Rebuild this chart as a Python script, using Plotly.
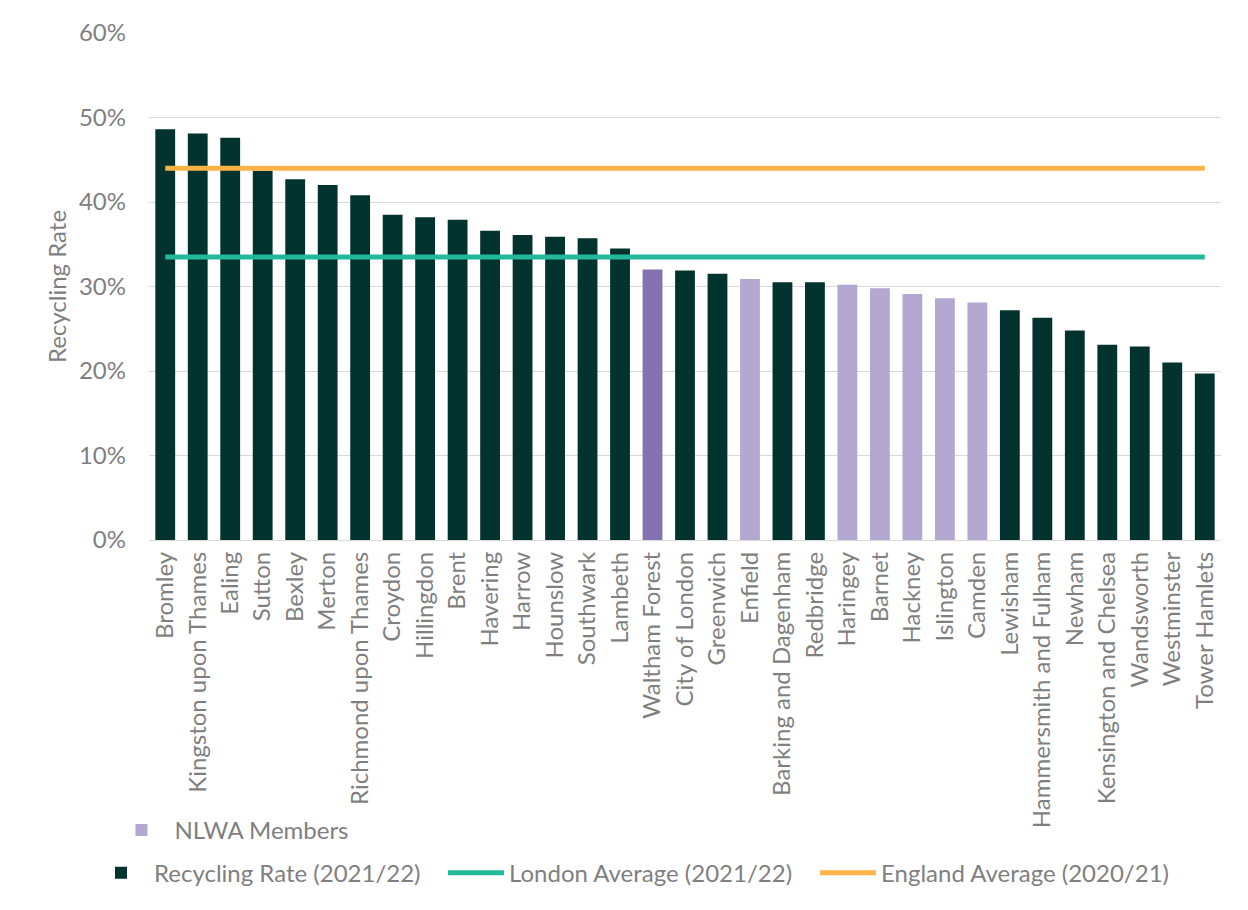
import plotly.graph_objects as go

categories = [
    "Bromley", "Kingston upon Thames", "Ealing", "Sutton", "Bexley", "Merton",
    "Richmond upon Thames", "Croydon", "Hillingdon", "Brent", "Havering", "Harrow",
    "Hounslow", "Southwark", "Lambeth", "Waltham Forest", "City of London", "Greenwich",
    "Enfield", "Barking and Dagenham", "Redbridge", "Haringey", "Barnet", "Hackney",
    "Islington", "Camden", "Lewisham", "Hammersmith and Fulham", "Newham",
    "Kensington and Chelsea", "Wandsworth", "Westminster", "Tower Hamlets",
]
recycling_rate = [
    0.486, 0.481, 0.476, 0.437, 0.427, 0.420,
    0.408, 0.385, 0.382, 0.379, 0.366, 0.361,
    0.359, 0.357, 0.345, 0.320, 0.319, 0.315,
    0.309, 0.305, 0.305, 0.302, 0.298, 0.291,
    0.286, 0.281, 0.272, 0.263, 0.248,
    0.231, 0.229, 0.210, 0.197,
]
nlwa_members = ["Enfield", "Haringey", "Barnet", "Hackney", "Islington", "Camden"]
highlight = ["Waltham Forest"]
london_average = 0.335
england_average = 0.440

DARK = "#02332E"
LAV = "#B4A7D1"
PURPLE = "#8570B0"
TEAL = "#22B89C"
ORANGE = "#FFB347"
GREY = "#7F7F7F"
FONT = "Lato"
FS = 24


def pick(names):
    return [v if c in names else None for c, v in zip(categories, recycling_rate)]


others = [v if (c not in nlwa_members and c not in highlight) else None
          for c, v in zip(categories, recycling_rate)]

fig = go.Figure()
fig.add_trace(go.Bar(x=categories, y=others, name="Recycling Rate (2021/22)",
                     marker=dict(color=DARK, line=dict(width=0)), legend="legend2"))
fig.add_trace(go.Bar(x=categories, y=pick(nlwa_members), name="NLWA Members",
                     marker=dict(color=LAV, line=dict(width=0)), legend="legend"))
fig.add_trace(go.Bar(x=categories, y=pick(highlight), name="Waltham Forest",
                     marker=dict(color=PURPLE, line=dict(width=0)), showlegend=False))
fig.add_trace(go.Scatter(x=categories, y=[london_average] * len(categories),
                         mode="lines", name="London Average (2021/22)",
                         line=dict(color=TEAL, width=5), legend="legend3"))
fig.add_trace(go.Scatter(x=categories, y=[england_average] * len(categories),
                         mode="lines", name="England Average (2020/21)",
                         line=dict(color=ORANGE, width=5), legend="legend4"))


def leg(x, y):
    return dict(orientation="h", x=x, xanchor="left", y=y, yanchor="middle",
                font=dict(family=FONT, size=FS, color=GREY), itemwidth=56,
                bgcolor="rgba(0,0,0,0)", borderwidth=0)


fig.update_layout(
    width=1232, height=894,
    margin=dict(l=141, r=19, t=25, b=362, autoexpand=False),
    paper_bgcolor="white", plot_bgcolor="white",
    barmode="overlay", bargap=0.39,
    font=dict(family=FONT, size=FS, color=GREY),
    legend=leg(-0.0378, -0.573),
    legend2=leg(-0.0569, -0.657),
    legend3=leg(0.2743, -0.657),
    legend4=leg(0.6213, -0.657),
    showlegend=True,
)
fig.update_yaxes(range=[0, 0.6], dtick=0.1, tickformat=".0%", automargin=False,
                 showgrid=True, gridcolor="#D9D9D9", gridwidth=1.3,
                 zeroline=True, zerolinecolor="#D9D9D9", zerolinewidth=1.3,
                 showline=False, ticks="", ticklabelstandoff=22,
                 tickfont=dict(family=FONT, size=FS, color=GREY),
                 title=dict(text="Recycling Rate", standoff=5,
                            font=dict(family=FONT, size=FS, color=GREY)))
fig.update_xaxes(tickangle=-90, showgrid=False, showline=False, ticks="",
                 ticklabelstandoff=6, automargin=False,
                 tickfont=dict(family=FONT, size=FS, color=GREY))

fig.write_html("out.html")
